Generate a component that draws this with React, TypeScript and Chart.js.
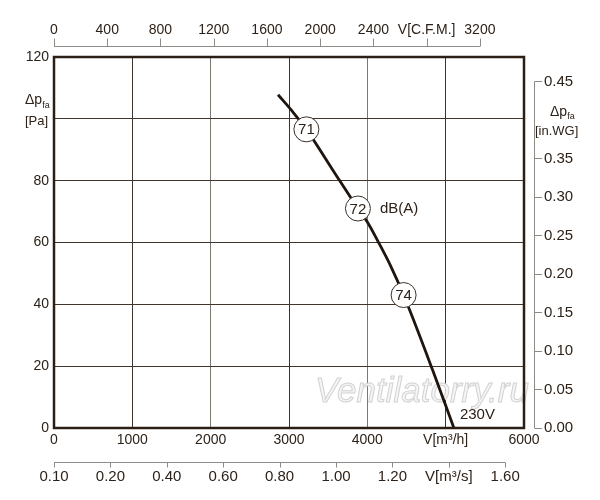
import React, { useEffect, useRef } from "react";
import { Chart, registerables } from "chart.js";

Chart.register(...registerables);

// ---- data ----
const flowM3h = [2860, 3050, 3222, 3550, 3880, 4000, 4150, 4300, 4463, 4837, 5105];
const pressurePa = [107.8, 102.2, 96.6, 83.8, 71.0, 66.6, 59.7, 52.3, 43.0, 18.5, 0];

const markerFlow = [3222, 3880, 4463];
const markerPressure = [96.6, 71.0, 43.0];
const markerLabels = ["71", "72", "74"];

const flowTicks = [0, 1000, 2000, 3000, 4000, 5000, 6000];
const flowTickLabels = ["0", "1000", "2000", "3000", "4000", "V[m³/h]", "6000"];
const pressureTicks = [0, 20, 40, 60, 80, 100, 120];
const pressureTickLabels = ["0", "20", "40", "60", "80", "", "120"];
const cfmTicks = [0, 400, 800, 1200, 1600, 2000, 2400, 2800, 3200];
const cfmTickLabels = ["0", "400", "800", "1200", "1600", "2000", "2400", "V[C.F.M.]", "3200"];
const m3sTicks = [0, 0.2, 0.4, 0.6, 0.8, 1.0, 1.2, 1.4, 1.6];
const m3sTickLabels = ["0.10", "0.20", "0.40", "0.60", "0.80", "1.00", "1.20", "V[m³/s]", "1.60"];
const inwgTicks = [0, 0.05, 0.1, 0.15, 0.2, 0.25, 0.3, 0.35, 0.4, 0.45];
const inwgTickLabels = ["0.00", "0.05", "0.10", "0.15", "0.20", "0.25", "0.30", "0.35", "", "0.45"];

const noiseUnit = "dB(A)";
const voltageLabel = "230V";
const watermarkText = "Ventilatorry.ru";

const M3H_PER_CFM = 1.699;
const PA_PER_INWG = 249.09;

// ---- styles ----
const FONT = "'Liberation Sans', Arial, sans-serif";
const TEXT = "#2d2219";
const AXIS_GREY = "#8e8a86";
const GRID_DARK = "#3f352d";
const GRID_LIGHT = "#7d7772";
const FRAME = "#2a1e15";
const CURVE = "#1f150f";

const fixTicks = (values: number[]) => (scale: any) => {
  scale.ticks = values.map((v) => ({ value: v }));
};

const decorPlugin = {
  id: "decor",
  beforeDatasetsDraw(chart: any) {
    const { ctx, chartArea: ca } = chart;
    ctx.save();
    ctx.font = `italic 35px ${FONT}`;
    ctx.textAlign = "left";
    ctx.textBaseline = "alphabetic";
    ctx.fillStyle = "#f5f5f5";
    ctx.strokeStyle = "#d2d2d2";
    ctx.lineWidth = 1;
    ctx.fillText(watermarkText, ca.right - 209, ca.bottom - 26);
    ctx.strokeText(watermarkText, ca.right - 209, ca.bottom - 26);
    ctx.restore();
  },
  afterDatasetsDraw(chart: any) {
    const { ctx, chartArea: ca, scales } = chart;
    ctx.save();
    // frame
    ctx.strokeStyle = FRAME;
    ctx.lineWidth = 2.5;
    ctx.strokeRect(ca.left, ca.top, ca.right - ca.left, ca.bottom - ca.top);

    ctx.strokeStyle = AXIS_GREY;
    ctx.lineWidth = 1;
    // top CFM axis
    const xt = scales.xt;
    const ty = ca.top - 10.5;
    ctx.beginPath();
    ctx.moveTo(xt.getPixelForValue(cfmTicks[0]), ty);
    ctx.lineTo(xt.getPixelForValue(cfmTicks[cfmTicks.length - 1]), ty);
    cfmTicks.forEach((v) => {
      const px = Math.round(xt.getPixelForValue(v)) + 0.5;
      ctx.moveTo(px, ty);
      ctx.lineTo(px, ty - 8);
    });
    ctx.stroke();

    // right in.WG axis
    const yr = scales.yr;
    const rx = ca.right + 10.5;
    ctx.beginPath();
    ctx.moveTo(rx, yr.getPixelForValue(inwgTicks[inwgTicks.length - 1]));
    ctx.lineTo(rx, yr.getPixelForValue(0));
    inwgTicks.forEach((v, i) => {
      if (inwgTickLabels[i] === "") return;
      const py = Math.round(yr.getPixelForValue(v)) + 0.5;
      ctx.moveTo(rx, py);
      ctx.lineTo(rx + 7.5, py);
    });
    ctx.stroke();

    // bottom m3/s axis
    const xs = scales.xs;
    const by = Math.round(xs.top) + 0.5;
    ctx.beginPath();
    ctx.moveTo(xs.getPixelForValue(m3sTicks[0]), by);
    ctx.lineTo(xs.getPixelForValue(m3sTicks[m3sTicks.length - 1]), by);
    m3sTicks.forEach((v) => {
      const px = Math.round(xs.getPixelForValue(v)) + 0.5;
      ctx.moveTo(px, by);
      ctx.lineTo(px, by + 5);
    });
    ctx.stroke();

    // marker labels
    const meta = chart.getDatasetMeta(0);
    ctx.fillStyle = TEXT;
    ctx.font = `15px ${FONT}`;
    ctx.textAlign = "center";
    ctx.textBaseline = "middle";
    meta.data.forEach((pt: any, i: number) => {
      ctx.fillText(markerLabels[i], pt.x, pt.y + 1);
    });

    // dB(A)
    const m72 = meta.data[1];
    ctx.textAlign = "left";
    ctx.fillText(noiseUnit, m72.x + 22, m72.y);

    // 230V
    const x = scales.x;
    const y = scales.y;
    const endX = x.getPixelForValue(flowM3h[flowM3h.length - 1]);
    const endY = y.getPixelForValue(pressurePa[pressurePa.length - 1]);
    ctx.fillText(voltageLabel, endX + 6, endY - 13);

    // axis titles
    const y100 = y.getPixelForValue(100);
    ctx.textBaseline = "alphabetic";
    ctx.font = `14px ${FONT}`;
    ctx.fillText("Δp", 25, y100 - 15);
    const w1 = ctx.measureText("Δp").width;
    ctx.font = `9px ${FONT}`;
    ctx.fillText("fa", 25 + w1, y100 - 11);
    ctx.font = `13px ${FONT}`;
    ctx.textBaseline = "middle";
    ctx.fillText("[Pa]", 25, y100 + 3);

    const r40 = yr.getPixelForValue(0.4);
    ctx.textBaseline = "alphabetic";
    ctx.font = `14px ${FONT}`;
    ctx.fillText("Δp", ca.right + 26, r40 - 4);
    const w2 = ctx.measureText("Δp").width;
    ctx.font = `9px ${FONT}`;
    ctx.fillText("fa", ca.right + 26 + w2, r40 - 0.5);
    ctx.font = `13px ${FONT}`;
    ctx.textBaseline = "middle";
    ctx.fillText("[in.WG]", ca.right + 11, r40 + 11);

    ctx.restore();
  },
};

export default function App() {
  const ref = useRef<HTMLCanvasElement>(null);

  useEffect(() => {
    document.body.style.margin = "0";
    const canvas = ref.current;
    if (!canvas) return;

    const curve = flowM3h.map((v, i) => ({ x: v, y: pressurePa[i] }));
    const markers = markerFlow.map((v, i) => ({ x: v, y: markerPressure[i] }));

    const tickFont = (size: number) => ({ family: FONT, size });

    const chart = new Chart(canvas, {
      type: "scatter",
      data: {
        datasets: [
          {
            label: "markers",
            data: markers,
            xAxisID: "x",
            yAxisID: "y",
            showLine: false,
            pointRadius: 12.5,
            pointBackgroundColor: "#ffffff",
            pointBorderColor: "#3a3029",
            pointBorderWidth: 1,
            order: 0,
          },
          {
            label: voltageLabel,
            data: curve,
            xAxisID: "x",
            yAxisID: "y",
            showLine: true,
            borderColor: CURVE,
            borderWidth: 2.8,
            pointRadius: 0,
            cubicInterpolationMode: "monotone",
            fill: false,
            order: 1,
          },
        ],
      },
      options: {
        responsive: false,
        animation: false,
        events: [],
        layout: { padding: 0 },
        plugins: { legend: { display: false }, tooltip: { enabled: false } },
        scales: {
          x: {
            type: "linear",
            position: "bottom",
            weight: 0,
            min: 0,
            max: 6000,
            afterBuildTicks: fixTicks(flowTicks),
            afterFit: (s: any) => {
              s.height = 34;
            },
            grid: {
              color: (c: any) => (c.tick && (c.tick.value === 2000 || c.tick.value === 4000) ? GRID_LIGHT : GRID_DARK),
              lineWidth: 1,
              drawTicks: false,
            },
            border: { display: false },
            ticks: {
              padding: 4,
              font: tickFont(14),
              color: TEXT,
              maxRotation: 0,
              autoSkip: false,
              callback: (_v: any, i: number) => flowTickLabels[i],
            },
          },
          xs: {
            type: "linear",
            position: "bottom",
            weight: 1,
            min: 0,
            max: 6000 / 3600,
            afterBuildTicks: fixTicks(m3sTicks),
            afterFit: (s: any) => {
              s.height = 38;
            },
            grid: { display: false, drawTicks: false },
            border: { display: false },
            ticks: {
              padding: 6,
              font: tickFont(15),
              color: TEXT,
              maxRotation: 0,
              autoSkip: false,
              callback: (_v: any, i: number) => m3sTickLabels[i],
            },
          },
          xt: {
            type: "linear",
            position: "top",
            min: 0,
            max: 6000 / M3H_PER_CFM,
            afterBuildTicks: fixTicks(cfmTicks),
            afterFit: (s: any) => {
              s.height = 57;
            },
            grid: { display: false, drawTicks: false },
            border: { display: false },
            ticks: {
              padding: 18,
              font: tickFont(14),
              color: TEXT,
              maxRotation: 0,
              autoSkip: false,
              callback: (_v: any, i: number) => cfmTickLabels[i],
            },
          },
          y: {
            type: "linear",
            position: "left",
            min: 0,
            max: 120,
            afterBuildTicks: fixTicks(pressureTicks),
            afterFit: (s: any) => {
              s.width = 54;
            },
            grid: { color: GRID_DARK, lineWidth: 1, drawTicks: false },
            border: { display: false },
            ticks: {
              padding: 5,
              font: tickFont(14),
              color: TEXT,
              autoSkip: false,
              callback: (_v: any, i: number) => pressureTickLabels[i],
            },
          },
          yr: {
            type: "linear",
            position: "right",
            min: 0,
            max: 120 / PA_PER_INWG,
            afterBuildTicks: fixTicks(inwgTicks),
            afterFit: (s: any) => {
              s.width = 76;
            },
            grid: { display: false, drawTicks: false },
            border: { display: false },
            ticks: {
              padding: 20,
              font: tickFont(15),
              color: TEXT,
              autoSkip: false,
              callback: (_v: any, i: number) => inwgTickLabels[i],
            },
          },
        },
      } as any,
      plugins: [decorPlugin],
    });

    return () => chart.destroy();
  }, []);

  return (
    <div style={{ width: 600, height: 500 }}>
      <canvas ref={ref} width={600} height={500} style={{ display: "block", width: 600, height: 500 }} />
    </div>
  );
}
